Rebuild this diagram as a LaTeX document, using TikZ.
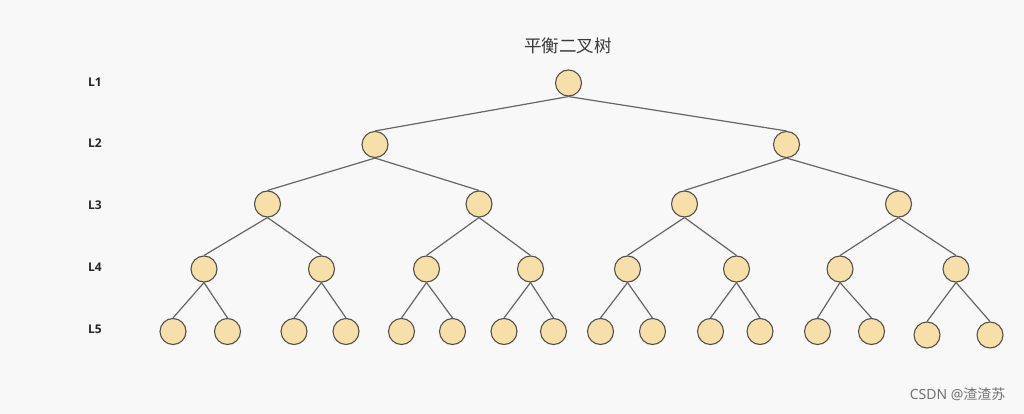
\documentclass[tikz,border=0pt]{standalone}
\usepackage{fontspec}
\setmainfont{Noto Sans}
\newfontfamily\cjk{Noto Sans CJK SC}
\newfontfamily\lblfont{Open Sans}
\definecolor{bg}{HTML}{F8F8F8}
\definecolor{nodefill}{HTML}{F6DFA8}
\definecolor{nodeedge}{HTML}{555048}
\definecolor{edgecol}{HTML}{666666}
\definecolor{titlecol}{HTML}{3A3A3A}
\begin{document}
\begin{tikzpicture}[x=1pt,y=-1pt,
  tn/.style={circle,draw=nodeedge,fill=nodefill,line width=1.1pt,minimum size=26pt,inner sep=0pt},
  ed/.style={draw=edgecol,line width=1.2pt},
  lvl/.style={font=\lblfont\bfseries\fontsize{12}{14}\selectfont,text=black!85},
]
\fill[bg] (0,0) rectangle (1024,414);
\useasboundingbox (0,0) rectangle (1024,414);
\node[font=\cjk\fontsize{17.5}{20}\selectfont,text=titlecol] (title) at (568,46) {平衡二叉树};
\foreach \i/\y in {1/82,2/143,3/205,4/267,5/329}{
  \node[lvl] (L\i) at (95,\y) {L\i};
}
% level 1
\node[tn] (a) at (568.5,83) {};
% level 2
\node[tn] (b1) at (375,144.5) {};
\node[tn] (b2) at (786.5,144.5) {};
% level 3
\node[tn] (c1) at (267.5,204) {};
\node[tn] (c2) at (479,204) {};
\node[tn] (c3) at (684.5,204) {};
\node[tn] (c4) at (898.5,204) {};
% level 4
\node[tn] (d1) at (204,269) {};
\node[tn] (d2) at (321.5,269) {};
\node[tn] (d3) at (426.5,269) {};
\node[tn] (d4) at (530.5,269) {};
\node[tn] (d5) at (627.5,269) {};
\node[tn] (d6) at (736.5,269) {};
\node[tn] (d7) at (840,269) {};
\node[tn] (d8) at (956,269) {};
% level 5
\node[tn] (e1) at (173,331.5) {};
\node[tn] (e2) at (227.5,331.5) {};
\node[tn] (e3) at (294,331.5) {};
\node[tn] (e4) at (346,331.5) {};
\node[tn] (e5) at (401.5,331.5) {};
\node[tn] (e6) at (452.5,331.5) {};
\node[tn] (e7) at (504,331.5) {};
\node[tn] (e8) at (553.5,331.5) {};
\node[tn] (e9) at (600.5,331.5) {};
\node[tn] (e10) at (652.5,331.5) {};
\node[tn] (e11) at (710.5,331.5) {};
\node[tn] (e12) at (760,331.5) {};
\node[tn] (e13) at (817.5,331.5) {};
\node[tn] (e14) at (871.5,331.5) {};
\node[tn] (e15) at (927,335) {};
\node[tn] (e16) at (990,335) {};
% edges
\foreach \p/\c in {a/b1,a/b2,b1/c1,b1/c2,b2/c3,b2/c4,
  c1/d1,c1/d2,c2/d3,c2/d4,c3/d5,c3/d6,c4/d7,c4/d8,
  d1/e1,d1/e2,d2/e3,d2/e4,d3/e5,d3/e6,d4/e7,d4/e8,
  d5/e9,d5/e10,d6/e11,d6/e12,d7/e13,d7/e14,d8/e15,d8/e16}{
  \draw[ed] (\p.south) -- (\c.north);
}
\node[font=\fontsize{14}{16}\selectfont,text=black!55,anchor=east] (wm) at (1009,394) {CSDN @{\cjk 渣渣苏}};
\end{tikzpicture}
\end{document}
